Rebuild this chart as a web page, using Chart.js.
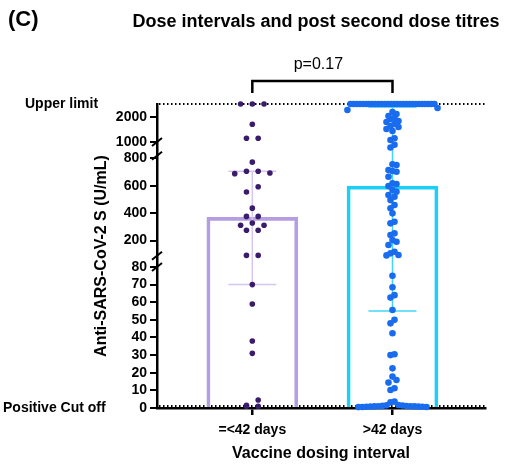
<!DOCTYPE html>
<html lang="en">
<head>
    <meta charset="UTF-8">
    <title>Dose intervals and post second dose titres</title>
    <style>
        html, body { margin: 0; padding: 0; background: #fff; }
        .chart-box { width: 512px; height: 464px; }
    </style>
</head>
<body>
    <div class="chart-box"><canvas id="mychart"></canvas></div>

    <script src="https://cdn.jsdelivr.net/npm/chart.js@4/dist/chart.umd.min.js"></script>
    <script>
        // 데이터
        const groups = ['=<42 days', '>42 days'];
        const medians = [370, 598];
        const q1 = [70, 55];
        const q3 = [706, 2380];
        const upperLimit = 2500;
        const cutOff = 0;
        const pValue = 'p=0.17';

        const shortValues = [2500, 2500, 2500, 1700, 1150, 1150, 773, 706, 706, 694, 689,
            593, 555, 437, 377, 377, 329, 312, 312, 276, 276, 92, 92,
            70, 59, 38, 31, 4.5, 1.5, 1, 1];

        const longValues = [
            2500, 2500, 2500, 2500, 2500, 2500, 2500, 2500, 2500, 2500, 2500, 2500, 2500, 2500,
            2500, 2500, 2500, 2500, 2500, 2500, 2500, 2500, 2500, 2500, 2500, 2500, 2500, 2500,
            2344, 2265, 2186, 2107, 2028, 1949, 1909, 1830, 1790, 1711, 1632, 1593, 1514, 1435,
            1150, 1080, 900, 880,
            757, 752, 715, 708, 703, 666, 618, 613, 598, 569, 557, 533, 520, 496, 460, 436,
            399, 338, 326, 253, 241, 204, 192, 168, 119, 107, 95, 92,
            75, 68.5, 64, 62.6, 55.6, 50, 48, 42.4, 30.5, 30, 22.5, 17.8, 15.9, 14.4, 11.2, 10.2,
            3.6, 3.2,
            1.7, 1.5, 1.4, 1.2, 1.1, 1, 1, 0.9, 0.9, 0.8, 0.8, 0.7, 0.7, 0.6, 0.6, 0.5];

        const yTicks = [0, 10, 20, 30, 40, 50, 60, 70, 80, 200, 400, 600, 800, 1000, 2000];
        const breakMarks = [80, 90, 820, 1000];

        // 끊긴 y축: 값 구간 -> 축 높이 비율
        const segments = [
            { from: 0, to: 80, start: 0, end: 0.464 },
            { from: 90, to: 900, start: 0.501, end: 0.866 },
            { from: 1000, to: 2500, start: 0.875, end: 1 },
        ];
        const lerp = (v, a, b, c, d) => c + (v - a) / (b - a) * (d - c);

        function valueToShare(v) {
            const s = segments;
            if (v <= s[0].to) return lerp(v, s[0].from, s[0].to, s[0].start, s[0].end);
            for (let i = 1; i < s.length; i++) {
                if (v < s[i].from) return lerp(v, s[i - 1].to, s[i].from, s[i - 1].end, s[i].start);
                if (v <= s[i].to || i === s.length - 1) return lerp(v, s[i].from, s[i].to, s[i].start, s[i].end);
            }
        }
        function shareToValue(f) {
            const s = segments;
            if (f <= s[0].end) return lerp(f, s[0].start, s[0].end, s[0].from, s[0].to);
            for (let i = 1; i < s.length; i++) {
                if (f < s[i].start) return lerp(f, s[i - 1].end, s[i].start, s[i - 1].to, s[i].from);
                if (f <= s[i].end || i === s.length - 1) return lerp(f, s[i].start, s[i].end, s[i].from, s[i].to);
            }
        }

        class BrokenScale extends Chart.LinearScale {
            getPixelForValue(value) {
                return this.getPixelForDecimal(valueToShare(value));
            }
            getValueForPixel(pixel) {
                return shareToValue(this.getDecimalForPixel(pixel));
            }
        }
        BrokenScale.id = 'broken';
        BrokenScale.defaults = Chart.LinearScale.defaults;
        Chart.register(BrokenScale);

        // 점 퍼뜨리기 (행 단위 beeswarm)
        const plotH = 304, pxPerX = 140;
        function swarm(values, step, rowH, maxHalf) {
            const pts = values.map((v, i) => ({ i, py: valueToShare(v) * plotH }));
            pts.sort((a, b) => b.py - a.py);
            const offs = new Array(values.length).fill(0);
            let row = [];
            const flush = () => {
                const n = row.length;
                const s = n > 1 ? Math.min(step, 2 * maxHalf / (n - 1)) : 0;
                const slots = [];
                for (let j = 0; j < n; j++) slots.push((j - (n - 1) / 2) * s);
                // 가운데부터 좌우로 채우기
                const order = slots.map((o, j) => j).sort((a, b) =>
                    Math.abs(slots[a]) - Math.abs(slots[b]) || slots[b] - slots[a]);
                row.forEach((p, k) => { offs[p.i] = slots[order[k]]; });
                row = [];
            };
            pts.forEach(p => {
                if (row.length && row[0].py - p.py >= rowH) flush();
                row.push(p);
            });
            flush();
            return offs.map(o => o / pxPerX);
        }

        const toPoints = (vals, xc, offs) => vals.map((v, i) => ({ x: xc + offs[i], y: v }));
        const shortPts = toPoints(shortValues, 0, swarm(shortValues, 11.7, 6, 45));
        const longPts = toPoints(longValues, 1, swarm(longValues, 4, 6, 45));

        const barColors = ['#b59de3', '#1dcff6'];
        const iqrColors = ['#d6c6f3', '#40d7f6'];
        const FONT = "'Liberation Sans', Arial, Helvetica, sans-serif";
        Chart.defaults.font.family = FONT;
        Chart.defaults.color = '#000';

        const decor = {
            id: 'decor',
            beforeDatasetsDraw(chart) {
                const { ctx, chartArea: a, scales: { y } } = chart;
                ctx.save();
                ctx.strokeStyle = '#000';
                ctx.lineWidth = 2;
                ctx.setLineDash([1.5, 2.5]);
                [upperLimit, cutOff].forEach(v => {
                    const py = y.getPixelForValue(v) - (v === cutOff ? 2 : 0);
                    ctx.beginPath();
                    ctx.moveTo(a.left + 2, py);
                    ctx.lineTo(a.right, py);
                    ctx.stroke();
                });
                ctx.restore();
            },
            afterDatasetDraw(chart, args) {
                if (args.meta.type !== 'bar') return;
                const { ctx, scales: { x, y } } = chart;
                ctx.save();
                ctx.lineWidth = 1.5;
                groups.forEach((g, i) => {
                    const cx = x.getPixelForValue(i);
                    const y1 = y.getPixelForValue(q1[i]);
                    const y3 = y.getPixelForValue(q3[i]);
                    ctx.strokeStyle = iqrColors[i];
                    ctx.beginPath();
                    ctx.moveTo(cx, y1); ctx.lineTo(cx, y3);
                    ctx.moveTo(cx - 24, y1); ctx.lineTo(cx + 24, y1);
                    ctx.moveTo(cx - 24, y3); ctx.lineTo(cx + 24, y3);
                    ctx.stroke();
                });
                ctx.restore();
            },
            afterDraw(chart) {
                const { ctx, chartArea: a, scales: { x, y } } = chart;
                ctx.save();
                // 축 끊김 표시
                ctx.strokeStyle = '#000';
                ctx.lineWidth = 2;
                breakMarks.forEach(v => {
                    const py = y.getPixelForValue(v);
                    ctx.beginPath();
                    ctx.moveTo(a.left - 5, py + 4);
                    ctx.lineTo(a.left + 5, py - 4);
                    ctx.stroke();
                });
                // p 값 괄호
                const x0 = x.getPixelForValue(0), x1 = x.getPixelForValue(1);
                ctx.lineWidth = 2.5;
                ctx.beginPath();
                ctx.moveTo(x0, a.top - 11);
                ctx.lineTo(x0, a.top - 23);
                ctx.lineTo(x1, a.top - 23);
                ctx.lineTo(x1, a.top - 11);
                ctx.stroke();

                ctx.fillStyle = '#000';
                ctx.textBaseline = 'middle';
                ctx.textAlign = 'center';
                ctx.font = '16px ' + FONT;
                ctx.fillText(pValue, (x0 + x1) / 2 - 4, a.top - 39);

                ctx.font = 'bold 18px ' + FONT;
                ctx.fillText('Dose intervals and post second dose titres', 316, 22);

                ctx.textAlign = 'left';
                ctx.font = 'bold 22px ' + FONT;
                ctx.fillText('(C)', 8, 20);

                ctx.font = 'bold 14px ' + FONT;
                ctx.fillText('Upper limit', 25, y.getPixelForValue(upperLimit));
                ctx.fillText('Positive Cut off', 3, y.getPixelForValue(cutOff));
                ctx.restore();
            }
        };

        new Chart(document.getElementById('mychart'), {
            type: 'bar',
            data: {
                datasets: [
                    {
                        type: 'bar',
                        data: medians.map((m, i) => ({ x: i, y: m })),
                        barThickness: 91,
                        borderWidth: 3,
                        borderColor: barColors,
                        backgroundColor: 'rgba(255,255,255,0)',
                        borderSkipped: 'start',
                        order: 2,
                    },
                    {
                        type: 'scatter',
                        data: shortPts,
                        pointRadius: 2.8,
                        pointBorderWidth: 0,
                        pointBackgroundColor: '#3b1c6c',
                        clip: false,
                        order: 1,
                    },
                    {
                        type: 'scatter',
                        data: longPts,
                        pointRadius: 3.3,
                        pointBorderWidth: 0,
                        pointBackgroundColor: '#1a6cef',
                        clip: false,
                        order: 1,
                    },
                ],
            },
            options: {
                responsive: true,
                maintainAspectRatio: false,
                animation: false,
                layout: { padding: { top: 104, right: 27, bottom: 0, left: 86 } },
                plugins: {
                    legend: { display: false },
                    tooltip: { enabled: false },
                    title: { display: false },
                },
                scales: {
                    x: {
                        type: 'linear',
                        min: -0.68,
                        max: 1.66,
                        offset: false,
                        afterBuildTicks: s => { s.ticks = groups.map((g, i) => ({ value: i })); },
                        afterFit: s => { s.height = 56; },
                        ticks: {
                            autoSkip: false,
                            maxRotation: 0,
                            padding: 7,
                            color: '#000',
                            font: { size: 14, weight: 'bold' },
                            callback: v => groups[v] ?? '',
                        },
                        grid: { offset: false, drawOnChartArea: false, tickLength: 7, color: '#000', lineWidth: 2.5 },
                        border: { color: '#000', width: 2.5 },
                        title: {
                            display: true,
                            text: 'Vaccine dosing interval',
                            color: '#000',
                            font: { size: 16, weight: 'bold' },
                            padding: { top: 0, bottom: 1 },
                        },
                    },
                    y: {
                        type: 'broken',
                        min: 0,
                        max: upperLimit,
                        afterBuildTicks: s => { s.ticks = yTicks.map(v => ({ value: v })); },
                        afterFit: s => { s.width = 71; },
                        ticks: {
                            autoSkip: false,
                            padding: 3,
                            color: '#000',
                            font: { size: 14, weight: 'bold' },
                            callback: v => String(v),
                        },
                        grid: { drawOnChartArea: false, tickLength: 7, color: '#000', lineWidth: 2 },
                        border: { color: '#000', width: 2.5 },
                        title: {
                            display: true,
                            text: 'Anti-SARS-CoV-2 S (U/mL)',
                            color: '#000',
                            font: { size: 16, weight: 'bold' },
                            padding: { top: 6, bottom: 0 },
                        },
                    },
                },
            },
            plugins: [decor],
        });
    </script>
</body>
</html>
